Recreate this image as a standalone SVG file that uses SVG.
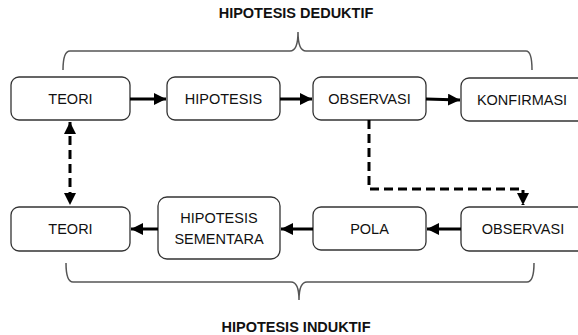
<svg xmlns="http://www.w3.org/2000/svg" width="578" height="335" viewBox="0 0 578 335">
<style>
.box{fill:#fff;stroke:#333;stroke-width:1.3}
.lbl{font-family:"Liberation Sans",Arial,sans-serif;font-size:14.5px;fill:#111;text-anchor:middle}
.ttl{font-family:"Liberation Sans",Arial,sans-serif;font-size:14.5px;font-weight:bold;fill:#111;text-anchor:middle}
.brace{fill:none;stroke:#555;stroke-width:1.5}
.arr{fill:none;stroke:#000;stroke-width:3}
.dash{fill:none;stroke:#000;stroke-width:3;stroke-dasharray:9 5}
</style>
<defs>
<marker id="ah" markerUnits="userSpaceOnUse" markerWidth="12" markerHeight="12" refX="10" refY="5" orient="auto-start-reverse" viewBox="0 0 10 10">
<path d="M0,0 L10,5 L0,10 Z" fill="#000"/>
</marker>
</defs>
<text class="ttl" x="296" y="17.5">HIPOTESIS DEDUKTIF</text>
<text class="ttl" x="296" y="332">HIPOTESIS INDUKTIF</text>
<g id="braces">
<path class="brace" d="M63,70 Q63,51 70,51 L290,51 Q298,51 298,32 Q298,51 306,51 L526,51 Q532,51 532,70"/>
<path class="brace" d="M66,263 Q66,282 73,282 L291,282 Q299,282 299,300 Q299,282 307,282 L527,282 Q534,282 534,263"/>
</g>
<g id="n-teori-top"><rect class="box" x="11" y="77" width="119" height="43" rx="8"/><text class="lbl" x="70.5" y="104">TEORI</text></g>
<g id="n-hipotesis"><rect class="box" x="167" y="77" width="113" height="43" rx="8"/><text class="lbl" x="223.5" y="104">HIPOTESIS</text></g>
<g id="n-observasi-top"><rect class="box" x="313" y="77" width="113" height="43" rx="8"/><text class="lbl" x="369.5" y="104">OBSERVASI</text></g>
<g id="n-konfirmasi"><rect class="box" x="461" y="78" width="125" height="43" rx="8"/><text class="lbl" x="522" y="105">KONFIRMASI</text></g>
<g id="n-teori-bot"><rect class="box" x="11" y="207" width="119" height="44" rx="8"/><text class="lbl" x="70.5" y="234">TEORI</text></g>
<g id="n-hipsem"><rect class="box" x="158" y="197" width="122" height="62" rx="9"/><text class="lbl" x="219" y="223">HIPOTESIS</text><text class="lbl" x="219" y="244">SEMENTARA</text></g>
<g id="n-pola"><rect class="box" x="313" y="207" width="113" height="43" rx="8"/><text class="lbl" x="369.5" y="234">POLA</text></g>
<g id="n-observasi-bot"><rect class="box" x="461" y="207" width="125" height="44" rx="8"/><text class="lbl" x="523" y="234">OBSERVASI</text></g>
<g id="connectors">
<path class="arr" d="M130,99 L166,99" marker-end="url(#ah)"/>
<path class="arr" d="M280,99 L312,99" marker-end="url(#ah)"/>
<path class="arr" d="M426,99 L460,100" marker-end="url(#ah)"/>
<path class="arr" d="M461,229 L427,229" marker-end="url(#ah)"/>
<path class="arr" d="M313,229 L281,229" marker-end="url(#ah)"/>
<path class="arr" d="M158,229 L131,229" marker-end="url(#ah)"/>
<path class="dash" d="M70,122 L70,205" marker-start="url(#ah)" marker-end="url(#ah)"/>
<path class="dash" d="M369,120 L369,189 L523,189 L523,205" marker-end="url(#ah)"/>
</g>
</svg>
